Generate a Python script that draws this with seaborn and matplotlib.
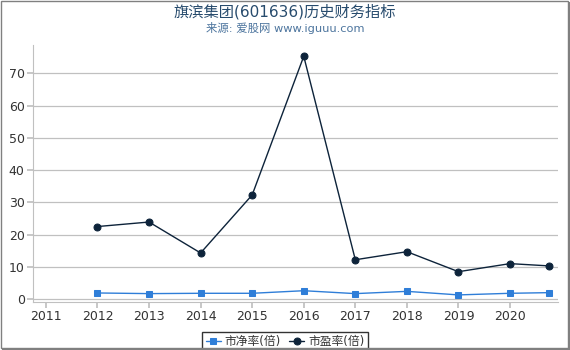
import matplotlib
matplotlib.use("Agg")
import matplotlib.pyplot as plt
import seaborn as sns
import pandas as pd
from matplotlib.patches import Rectangle

years = [2012, 2013, 2014, 2015, 2016, 2017, 2018, 2019, 2020, 2020.75]
pb = [1.9, 1.7, 1.8, 1.8, 2.6, 1.7, 2.4, 1.3, 1.8, 2.0]
pe = [22.5, 23.9, 14.3, 32.3, 75.3, 12.2, 14.7, 8.5, 11.0, 10.3]
xticks = [2011, 2012, 2013, 2014, 2015, 2016, 2017, 2018, 2019, 2020]
yticks = [0, 10, 20, 30, 40, 50, 60, 70]
title = "旗滨集团(601636)历史财务指标"
subtitle = "来源: 爱股网 www.iguuu.com"
label_pb = "市净率(倍)"
label_pe = "市盈率(倍)"

sns.set_theme(style="white")
plt.rcParams['font.family'] = ['DejaVu Sans', 'Noto Sans CJK SC']

fig = plt.figure(figsize=(5.7, 3.5), dpi=100)
ax = fig.add_axes([33/570, 48/350, 525/570, 257/350])

df = pd.DataFrame({"year": years, "pb": pb, "pe": pe})
sns.lineplot(data=df, x="year", y="pb", ax=ax, color="#2f7ed8", marker="s",
             markersize=5, markeredgecolor="#2f7ed8", linewidth=1, label=label_pb)
sns.lineplot(data=df, x="year", y="pe", ax=ax, color="#0d233a", marker="o",
             markersize=5, markeredgecolor="#0d233a", linewidth=1, label=label_pe)

ax.set_xlim(2010.75, 2020.93)
ax.set_ylim(-0.9, 78.8)
ax.set_xticks(xticks)
ax.set_xticklabels([str(x) for x in xticks])
ax.set_yticks(yticks)
ax.set_xlabel("")
ax.set_ylabel("")
ax.grid(axis="y", color="#c0c0c0", linewidth=0.9)
ax.grid(axis="x", visible=False)
for s in ["top", "right"]:
    ax.spines[s].set_visible(False)
ax.spines["left"].set_color("#c0c0c0")
ax.spines["left"].set_linewidth(0.8)
ax.spines["bottom"].set_color("#c0c0c0")
ax.spines["bottom"].set_linewidth(0.8)
ax.tick_params(axis="x", which="both", bottom=True, length=4, color="#c0c0c0",
               labelsize=9, labelcolor="#333333", pad=2)
ax.tick_params(axis="y", which="both", left=True, length=4, color="#c0c0c0",
               labelsize=9, labelcolor="#333333", pad=2)

leg = ax.legend(loc="upper center", bbox_to_anchor=(285/570, 1 - 326/350), bbox_transform=fig.transFigure,
                ncol=2, frameon=True, fontsize=8.5, handlelength=1.3, handletextpad=0.3,
                columnspacing=0.7, borderpad=0.3, fancybox=False)
leg.get_frame().set_edgecolor("#000000")
leg.get_frame().set_linewidth(1)
for t in leg.get_texts():
    t.set_color("#333333")

fig.text(285/570, 1 - 12/350, title, ha="center", va="center", fontsize=11, color="#274b6d")
fig.text(285/570, 1 - 28/350, subtitle, ha="center", va="center", fontsize=8.2, color="#4d759e")

fig.patches.append(Rectangle((0.5/570, 2/350), 567/570, 347.5/350, transform=fig.transFigure,
                             fill=False, edgecolor="#808080", linewidth=1))
fig.patches.append(Rectangle((568/570, 0), 2/570, 348/350, transform=fig.transFigure,
                             fill=True, facecolor="#808080", edgecolor="none"))
fig.patches.append(Rectangle((2/570, 0), 568/570, 2.5/350, transform=fig.transFigure,
                             fill=True, facecolor="#808080", edgecolor="none"))

fig.savefig("out.png", dpi=100)
